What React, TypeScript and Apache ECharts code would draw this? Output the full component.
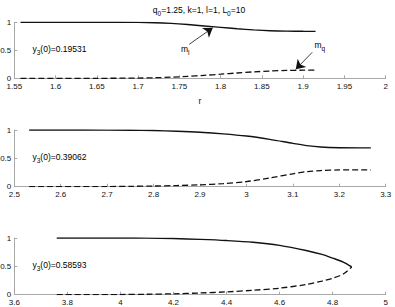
import React, { useEffect, useRef } from "react";
import * as echarts from "echarts";

// ---- data ----
const p1Solid: [number, number][] = [
  [1.5575, 1], [1.65, 1], [1.7, 0.998], [1.72, 0.993], [1.74, 0.98], [1.76, 0.96],
  [1.78, 0.935], [1.8, 0.91], [1.82, 0.885], [1.84, 0.865], [1.86, 0.85],
  [1.88, 0.842], [1.9, 0.839], [1.915, 0.838],
];
const p1Dashed: [number, number][] = [
  [1.5575, 0], [1.65, 0], [1.7, 0.004], [1.72, 0.01], [1.74, 0.02], [1.76, 0.035],
  [1.78, 0.053], [1.8, 0.073], [1.82, 0.095], [1.84, 0.115], [1.86, 0.13],
  [1.88, 0.14], [1.9, 0.145], [1.915, 0.146],
];
const p2Solid: [number, number][] = [
  [2.532, 1], [2.65, 1], [2.75, 0.995], [2.8, 0.99], [2.85, 0.978], [2.9, 0.96],
  [2.95, 0.932], [3.0, 0.893], [3.05, 0.835], [3.1, 0.765], [3.13, 0.725],
  [3.16, 0.7], [3.2, 0.688], [3.268, 0.685],
];
const p2Dashed: [number, number][] = [
  [2.532, 0], [2.7, 0.002], [2.75, 0.006], [2.8, 0.012], [2.85, 0.02], [2.9, 0.033],
  [2.95, 0.055], [3.0, 0.09], [3.05, 0.155], [3.1, 0.228], [3.13, 0.265],
  [3.16, 0.285], [3.2, 0.295], [3.268, 0.297],
];
const p3Solid: [number, number][] = [
  [3.76, 1], [4.0, 1], [4.1, 0.997], [4.2, 0.99], [4.3, 0.975], [4.4, 0.955],
  [4.5, 0.925], [4.6, 0.87], [4.7, 0.78], [4.76, 0.71], [4.8, 0.645],
  [4.84, 0.575], [4.872, 0.49],
];
const p3Dashed: [number, number][] = [
  [3.76, 0], [4.0, 0.003], [4.1, 0.008], [4.2, 0.016], [4.3, 0.03], [4.4, 0.05],
  [4.5, 0.078], [4.6, 0.115], [4.7, 0.18], [4.76, 0.24], [4.8, 0.29],
  [4.84, 0.365], [4.872, 0.49],
];
const xRanges = [
  { min: 1.55, max: 2, interval: 0.05 },
  { min: 2.5, max: 3.3, interval: 0.1 },
  { min: 3.6, max: 5, interval: 0.2 },
];
const y3Values = ["0.19531", "0.39062", "0.58593"];
const arrowMl: [number, number][] = [[1.762, 0.607], [1.7905, 0.904]];
const arrowMq: [number, number][] = [[1.911, 0.464], [1.891, 0.16]];

const FONT = "Liberation Sans, Arial, Helvetica, sans-serif";
const AXIS_COLOR = "#a8a8a8";

export default function App() {
  const ref = useRef<HTMLDivElement>(null);
  useEffect(() => {
    if (!ref.current) return;
    const chart = echarts.init(ref.current, null, { renderer: "svg" });
    const gridTops = [22.3, 130, 238];
    const gridHeights = [56, 56.7, 56.7];
    const grids = gridTops.map((t, i) => ({
      left: 14.3,
      right: 9.3,
      top: t,
      height: gridHeights[i],
      containLabel: false,
      outerBoundsMode: "none",
    }));
    const xAxes = xRanges.map((r, i) => ({
      type: "value",
      gridIndex: i,
      min: r.min,
      max: r.max,
      interval: r.interval,
      name: i === 0 ? "r" : "",
      nameLocation: "middle",
      nameGap: 18,
      nameTextStyle: { fontFamily: FONT, fontSize: 8.5, color: "#111" },
      axisLine: { show: true, lineStyle: { color: AXIS_COLOR, width: 1 } },
      axisTick: { show: true, inside: true, length: 3, lineStyle: { color: AXIS_COLOR } },
      splitLine: { show: false },
      axisLabel: {
        fontFamily: FONT,
        fontSize: 8,
        color: "#111",
        margin: 4,
        formatter: (v: number) => String(+v.toFixed(2)),
      },
    }));
    const yAxes = [0, 1, 2].map((i) => ({
      type: "value",
      gridIndex: i,
      min: 0,
      max: 1,
      interval: 0.5,
      axisLine: { show: true, lineStyle: { color: AXIS_COLOR, width: 1 } },
      axisTick: { show: true, inside: true, length: 3, lineStyle: { color: AXIS_COLOR } },
      splitLine: { show: false },
      axisLabel: {
        fontFamily: FONT,
        fontSize: 8,
        color: "#111",
        margin: 3,
        formatter: (v: number) => String(+v.toFixed(2)),
      },
    }));
    const solid = (data: [number, number][], i: number) => ({
      type: "line",
      xAxisIndex: i,
      yAxisIndex: i,
      data,
      showSymbol: false,
      smooth: 0.3,
      lineStyle: { color: "#111", width: 1.4 },
      silent: true,
    });
    const dashed = (data: [number, number][], i: number) => ({
      type: "line",
      xAxisIndex: i,
      yAxisIndex: i,
      data,
      showSymbol: false,
      smooth: 0.3,
      lineStyle: { color: "#111", width: 1.3, type: [6, 3] },
      silent: true,
    });
    const richBase = {
      a: { fontFamily: FONT, fontSize: 8.5, color: "#111" },
      s: { fontFamily: FONT, fontSize: 6.5, color: "#111", padding: [7, 0, 0, 0] },
    };
    const y3Y = [49, 157, 265];
    const graphic: any[] = [
      {
        type: "text",
        x: 199,
        y: 10,
        style: {
          text: "{a|q}{s|0}{a|=1.25, k=1, l=1, L}{s|0}{a|=10}",
          rich: richBase,
          align: "center",
          verticalAlign: "middle",
        },
      },
      ...y3Values.map((v, i) => ({
        type: "text",
        x: 32.5,
        y: y3Y[i],
        style: {
          text: `{a|y}{s|3}{a|(0)=${v}}`,
          rich: richBase,
          align: "left",
          verticalAlign: "middle",
        },
      })),
      {
        type: "text",
        x: 181,
        y: 49,
        style: { text: "{a|m}{s|l}", rich: richBase, align: "left", verticalAlign: "middle" },
      },
      {
        type: "text",
        x: 314.5,
        y: 45,
        style: { text: "{a|m}{s|q}", rich: richBase, align: "left", verticalAlign: "middle" },
      },
    ];
    chart.setOption({
      animation: false,
      backgroundColor: "#fff",
      grid: grids,
      xAxis: xAxes,
      yAxis: yAxes,
      series: [
        solid(p1Solid, 0),
        dashed(p1Dashed, 0),
        solid(p2Solid, 1),
        dashed(p2Dashed, 1),
        solid(p3Solid, 2),
        dashed(p3Dashed, 2),
        {
          type: "lines",
          coordinateSystem: "cartesian2d",
          xAxisIndex: 0,
          yAxisIndex: 0,
          symbol: ["none", "arrow"],
          symbolSize: 9,
          silent: true,
          lineStyle: { color: "#111", width: 0.8, opacity: 1 },
          data: [{ coords: arrowMl }, { coords: arrowMq }],
        },
      ],
      graphic,
    });
    return () => chart.dispose();
  }, []);
  return <div ref={ref} style={{ width: 395, height: 307, position: "absolute", left: 0, top: 0 }} />;
}
